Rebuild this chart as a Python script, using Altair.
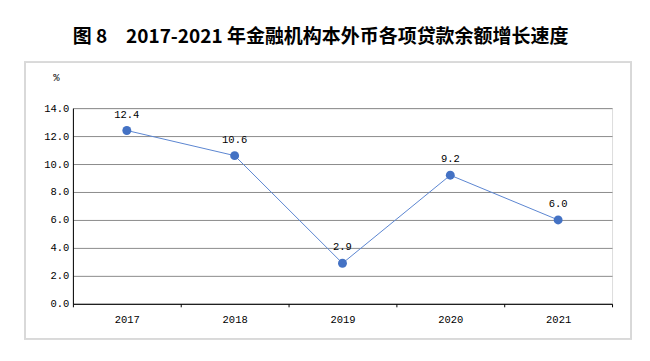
import altair as alt
import pandas as pd

years = ["2017", "2018", "2019", "2020", "2021"]
values = [12.4, 10.6, 2.9, 9.2, 6.0]
labels = ["12.4", "10.6", "2.9", "9.2", "6.0"]

df = pd.DataFrame({"year": years, "value": values, "label": labels})

FONT = "Liberation Mono"
BLUE = "#4472C4"

x = alt.X("year:N", sort=years, title=None,
          scale=alt.Scale(paddingInner=0, paddingOuter=0),
          axis=alt.Axis(labelAngle=0, labelFont=FONT, labelFontSize=10.5, labelColor="#000",
                        domainColor="#000", tickColor="#000", tickSize=3, tickBand="extent",
                        labelPadding=8, grid=False))
y = alt.Y("value:Q", title="%",
          scale=alt.Scale(domain=[0, 14], nice=False),
          axis=alt.Axis(values=[0, 2, 4, 6, 8, 10, 12, 14], format=".1f",
                        labelFont=FONT, labelFontSize=10.5, labelColor="#000",
                        domainColor="#000", ticks=False, labelPadding=4,
                        gridColor="#8c8c8c", gridWidth=1,
                        titleAngle=0, titleX=-17, titleY=-26, titleAlign="center",
                        titleFont=FONT, titleFontSize=10.5, titleFontWeight="normal",
                        titleColor="#000"))

border = alt.Chart(df).mark_rect(fill=None, stroke="#d9d9d9", strokeWidth=1.5).encode(
    x=alt.value(-48), x2=alt.value(559), y=alt.value(-46), y2=alt.value(231))

base = alt.Chart(df)
line = base.mark_line(color="#5b86d1", strokeWidth=1).encode(x=x, y=y)
pts = base.mark_point(filled=True, color=BLUE, size=80, opacity=1).encode(x=x, y=y)
txt = base.mark_text(dy=-16, font=FONT, fontSize=10.5, color="#000").encode(
    x=x, y=y, text="label:N")

chart = alt.layer(border, line, pts, txt).properties(
    width=540, height=196,
    title=alt.TitleParams("图 8　2017-2021 年金融机构本外币各项贷款余额增长速度",
                          font="Noto Sans CJK SC", fontSize=19, fontWeight=600,
                          color="#000", anchor="middle", dx=-22, offset=14),
    autosize=alt.AutoSizeParams(type="none"),
    padding={"left": 65, "top": 100, "right": 30, "bottom": 50},
).configure_view(stroke=None).configure(background="white")

chart.save("out.html", embed_options={"renderer": "svg", "actions": False})
